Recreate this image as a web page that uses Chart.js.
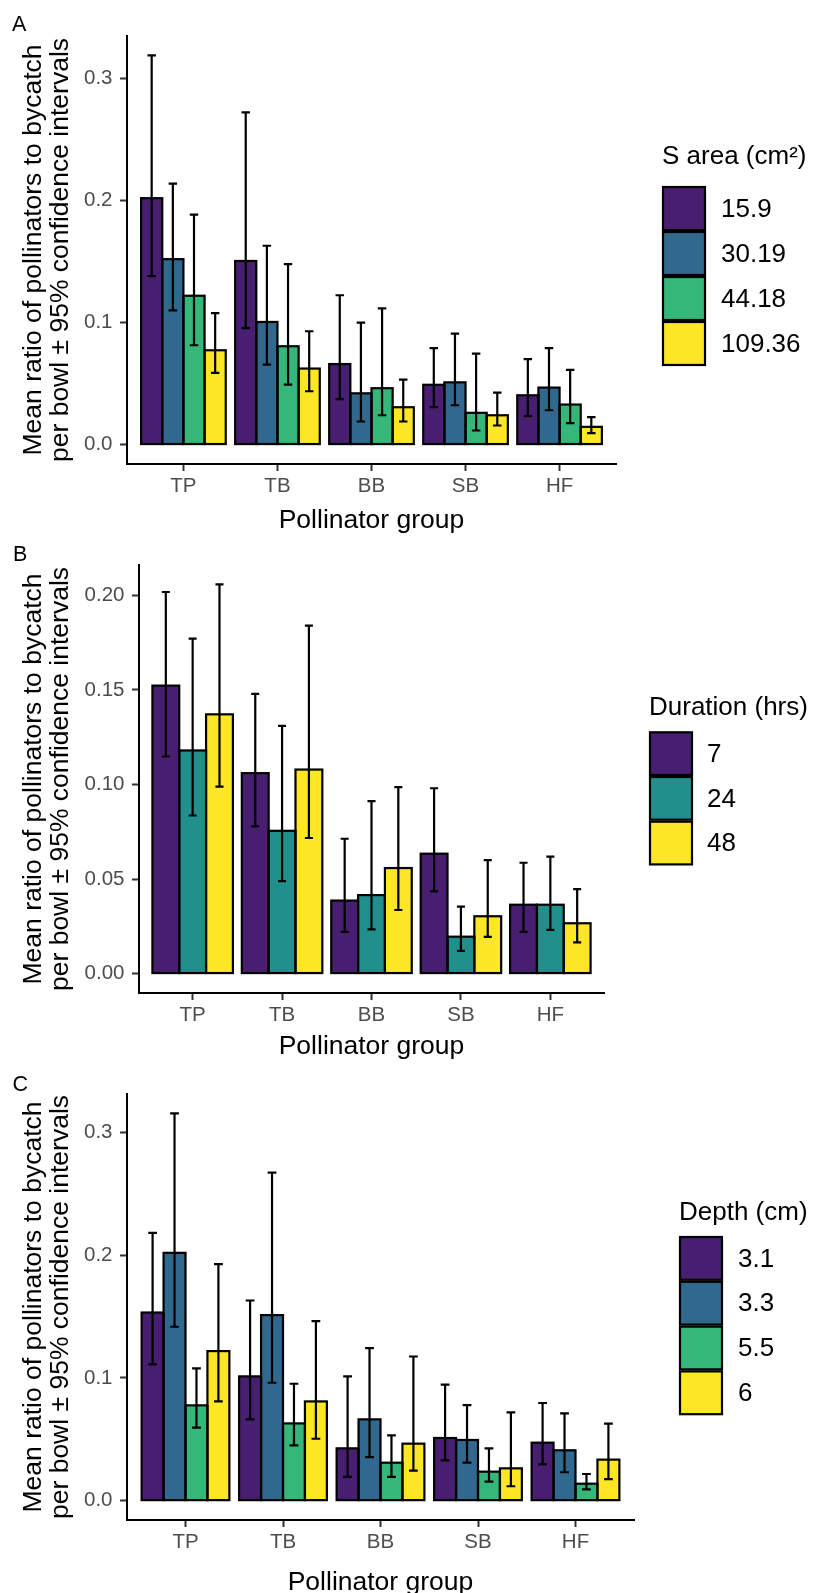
<!DOCTYPE html>
<html><head><meta charset="utf-8">
<script src="https://cdn.jsdelivr.net/npm/chart.js@4.4.1/dist/chart.umd.min.js"></script>
<style>
html,body{margin:0;padding:0;background:#fff;overflow:hidden;width:813px;height:1593px;position:relative;}
canvas{position:absolute;left:0;}
</style></head><body>
<canvas id="pA" width="813" height="540" style="top:0px;width:813px;height:540px"></canvas>
<canvas id="pB" width="813" height="540" style="top:530px;width:813px;height:540px"></canvas>
<canvas id="pC" width="813" height="545" style="top:1060px;width:813px;height:545px"></canvas>
<script>
// ---------- data ----------
const groups = ['TP', 'TB', 'BB', 'SB', 'HF'];

const areaLevels = ['15.9', '30.19', '44.18', '109.36'];
const areaMean = [
  [0.202, 0.1505, 0.066, 0.049, 0.0404],
  [0.152, 0.1005, 0.042, 0.051, 0.0467],
  [0.122, 0.0806, 0.0462, 0.026, 0.0328],
  [0.0773, 0.0623, 0.0306, 0.024, 0.0145]
];
const areaLow = [
  [0.138, 0.0954, 0.0372, 0.0306, 0.0232],
  [0.110, 0.0656, 0.0189, 0.0322, 0.0281],
  [0.0814, 0.0492, 0.024, 0.0115, 0.0175],
  [0.0587, 0.0437, 0.0189, 0.0156, 0.0093]
];
const areaHigh = [
  [0.319, 0.2724, 0.1224, 0.079, 0.070],
  [0.214, 0.163, 0.100, 0.091, 0.079],
  [0.1885, 0.148, 0.1117, 0.0746, 0.0612],
  [0.1077, 0.0929, 0.0533, 0.0426, 0.0224]
];

const durationLevels = ['7', '24', '48'];
const durationMean = [
  [0.1523, 0.106, 0.0386, 0.0634, 0.0364],
  [0.118, 0.0755, 0.0415, 0.0195, 0.0364],
  [0.1371, 0.1079, 0.0558, 0.0303, 0.0266]
];
const durationLow = [
  [0.1148, 0.0778, 0.022, 0.0435, 0.022],
  [0.0836, 0.0489, 0.0234, 0.012, 0.0231],
  [0.0989, 0.0717, 0.0336, 0.0194, 0.0165]
];
const durationHigh = [
  [0.2018, 0.1479, 0.0713, 0.098, 0.0586],
  [0.1771, 0.131, 0.0912, 0.0354, 0.0618],
  [0.2058, 0.184, 0.0986, 0.060, 0.0447]
];

const depthLevels = ['3.1', '3.3', '5.5', '6'];
const depthMean = [
  [0.1532, 0.1012, 0.0426, 0.051, 0.0472],
  [0.2018, 0.1511, 0.0662, 0.0494, 0.041],
  [0.0776, 0.0629, 0.0309, 0.0236, 0.0138],
  [0.1218, 0.0808, 0.0464, 0.0263, 0.0334]
];
const depthLow = [
  [0.111, 0.0662, 0.0193, 0.0328, 0.0296],
  [0.1416, 0.096, 0.0355, 0.0309, 0.0231],
  [0.0594, 0.045, 0.0193, 0.0155, 0.0092],
  [0.0808, 0.0504, 0.0244, 0.0117, 0.0176]
];
const depthHigh = [
  [0.218, 0.163, 0.1012, 0.0944, 0.0795],
  [0.3154, 0.2672, 0.1242, 0.0778, 0.0711],
  [0.1077, 0.0952, 0.0532, 0.0426, 0.0217],
  [0.1926, 0.1462, 0.1174, 0.0719, 0.0627]
];

const yTicks1 = [0, 0.1, 0.2, 0.3];
const yTickLabels1 = ['0.0', '0.1', '0.2', '0.3'];
const yTicks2 = [0, 0.05, 0.10, 0.15, 0.20];
const yTickLabels2 = ['0.00', '0.05', '0.10', '0.15', '0.20'];

const viridis4 = ['#481F70', '#31688E', '#35B779', '#FDE725'];
const viridis3 = ['#481F70', '#21908C', '#FDE725'];

const yTitle = ['Mean ratio of pollinators to bycatch', 'per bowl \u00B1 95% confidence intervals'];
const xTitle = 'Pollinator group';

// ---------- drawing ----------
const FONT = '"Liberation Sans", Arial, sans-serif';

const barsAndErrors = {
  id: 'barsAndErrors',
  afterDatasetsDraw(chart, args, o) {
    const ctx = chart.ctx, xs = chart.scales.x, ys = chart.scales.y;
    ctx.save();
    ctx.strokeStyle = '#000';
    ctx.lineWidth = o.barLine;
    chart.data.datasets.forEach((ds, i) => {
      chart.getDatasetMeta(i).data.forEach(el => {
        const p = el.getProps(['x', 'y', 'base', 'width'], true);
        ctx.strokeRect(p.x - p.width / 2, p.y, p.width, p.base - p.y);
      });
    });
    const cap = Math.abs(xs.getPixelForValue(1 + o.capUnits) - xs.getPixelForValue(1));
    ctx.lineWidth = o.errLine;
    ctx.lineCap = 'butt';
    chart.data.datasets.forEach((ds, i) => {
      chart.getDatasetMeta(i).data.forEach((el, j) => {
        const cx = el.x;
        const yl = ys.getPixelForValue(ds.errLow[j]);
        const yh = ys.getPixelForValue(ds.errHigh[j]);
        ctx.beginPath();
        ctx.moveTo(cx, yl); ctx.lineTo(cx, yh);
        ctx.moveTo(cx - cap, yl); ctx.lineTo(cx + cap, yl);
        ctx.moveTo(cx - cap, yh); ctx.lineTo(cx + cap, yh);
        ctx.stroke();
      });
    });
    ctx.restore();
  }
};

const sideLegend = {
  id: 'sideLegend',
  afterDraw(chart, args, o) {
    const ctx = chart.ctx;
    ctx.save();
    ctx.fillStyle = '#000';
    ctx.textAlign = 'left';
    ctx.textBaseline = 'alphabetic';
    ctx.font = '26px ' + FONT;
    ctx.fillText(o.title, o.x, o.titleBaseline);
    chart.data.datasets.forEach((ds, i) => {
      const top = o.keyTop + i * o.keyH;
      ctx.fillStyle = ds.backgroundColor;
      ctx.fillRect(o.x + 1, top + 1, o.keyW - 2, o.keyH - 2);
      ctx.strokeStyle = '#000';
      ctx.lineWidth = 2.2;
      ctx.strokeRect(o.x + 1, top + 1, o.keyW - 2, o.keyH - 2);
      ctx.fillStyle = '#000';
      ctx.textBaseline = 'middle';
      ctx.fillText(ds.label, o.labelX, top + o.keyH / 2 + 1);
    });
    ctx.textBaseline = 'alphabetic';
    ctx.font = '21.5px ' + FONT;
    ctx.fillText(o.tag, o.tagX, o.tagBaseline);
    ctx.restore();
  }
};

function makePanel(id, spec) {
  const maxHi = Math.max(...spec.high.flat());
  const yMin = -0.05 * maxHi, yMax = 1.05 * maxHi;
  const axisGrid = { display: true, drawOnChartArea: false, drawTicks: true, tickLength: 7, tickWidth: 2, tickColor: '#333333', offset: false };
  const axisBorder = { display: true, color: '#000000', width: 2 };
  const tickFont = { family: FONT, size: 20.5 };
  return new Chart(document.getElementById(id), {
    type: 'bar',
    data: {
      datasets: spec.levels.map((lab, k) => ({
        label: lab,
        data: spec.mean[k].map((v, j) => ({ x: j + 1, y: v })),
        errLow: spec.low[k],
        errHigh: spec.high[k],
        backgroundColor: spec.colors[k],
        borderWidth: 0,
        categoryPercentage: 0.9,
        barPercentage: 1.0
      }))
    },
    options: {
      responsive: false,
      animation: false,
      devicePixelRatio: 1,
      events: [],
      layout: { padding: { left: 0, top: spec.area.top, right: 813 - spec.area.right, bottom: 0 } },
      plugins: {
        legend: { display: false },
        tooltip: { enabled: false },
        barsAndErrors: { barLine: 2.2, errLine: 2.2, capUnits: 0.045 },
        sideLegend: spec.legend
      },
      scales: {
        x: {
          type: 'linear', min: 0.4, max: 5.6, bounds: 'data', offset: false,
          afterBuildTicks: s => { s.ticks = groups.map((g, i) => ({ value: i + 1 })); },
          afterFit: s => { s.height = spec.H - spec.area.bottom; },
          ticks: { callback: v => groups[Math.round(v) - 1], font: tickFont, color: '#4D4D4D', padding: 3, maxRotation: 0, autoSkip: false },
          grid: axisGrid,
          border: axisBorder,
          title: { display: true, text: xTitle, color: '#000', font: { family: FONT, size: 26.5, lineHeight: 1 }, padding: { top: 0, bottom: spec.xTitlePad } }
        },
        y: {
          type: 'linear', min: yMin, max: yMax, bounds: 'data',
          afterBuildTicks: s => { s.ticks = spec.yTicks.map(v => ({ value: v })); },
          afterFit: s => { s.width = spec.area.left; },
          ticks: { callback: (v, i) => spec.yTickLabels[i], font: tickFont, color: '#4D4D4D', padding: 7.5 },
          grid: axisGrid,
          border: axisBorder,
          title: { display: true, text: yTitle, color: '#000', font: { family: FONT, size: 26.5, lineHeight: 1.02 }, padding: { top: 20, bottom: 0 } }
        }
      }
    },
    plugins: [barsAndErrors, sideLegend]
  });
}

makePanel('pA', {
  levels: areaLevels, mean: areaMean, low: areaLow, high: areaHigh, colors: viridis4,
  yTicks: yTicks1, yTickLabels: yTickLabels1,
  H: 540, area: { left: 127, top: 36, right: 616, bottom: 464 }, xTitlePad: 6.5,
  legend: { title: 'S area (cm\u00B2)', x: 662, titleBaseline: 164, keyTop: 186, keyW: 44, keyH: 45, labelX: 721, tag: 'A', tagX: 12, tagBaseline: 31 }
});

makePanel('pB', {
  levels: durationLevels, mean: durationMean, low: durationLow, high: durationHigh, colors: viridis3,
  yTicks: yTicks2, yTickLabels: yTickLabels2,
  H: 540, area: { left: 139, top: 35, right: 604, bottom: 463 }, xTitlePad: 10.5,
  legend: { title: 'Duration (hrs)', x: 649, titleBaseline: 185, keyTop: 201.3, keyW: 44, keyH: 44.7, labelX: 707, tag: 'B', tagX: 13, tagBaseline: 30.5 }
});

makePanel('pC', {
  levels: depthLevels, mean: depthMean, low: depthLow, high: depthHigh, colors: viridis4,
  yTicks: yTicks1, yTickLabels: yTickLabels1,
  H: 545, area: { left: 127, top: 34, right: 634, bottom: 460 }, xTitlePad: 9,
  legend: { title: 'Depth (cm)', x: 679, titleBaseline: 160, keyTop: 176, keyW: 44, keyH: 44.8, labelX: 738, tag: 'C', tagX: 12.5, tagBaseline: 30.5 }
});
</script>
</body></html>
